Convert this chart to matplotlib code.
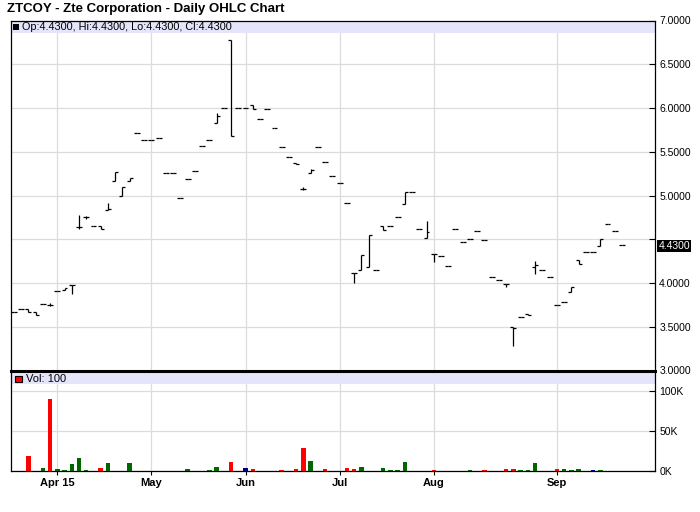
# ZTCOY daily OHLC chart with volume panel
import numpy as np
import matplotlib
matplotlib.use("Agg")
import matplotlib.pyplot as plt
from matplotlib.patches import Rectangle

plt.rcParams['font.family'] = ['Liberation Sans', 'DejaVu Sans']

# Daily bars (one per trading session shown on the chart)
opens = [3.67, 3.70, 3.70, 3.67, 3.76, 3.75, 3.91, 3.92, 3.98, 4.64,
         4.75, 4.65, 4.65, 4.83, 5.17, 5.00, 5.17, 5.71, 5.63, 5.64,
         5.66, 5.26, 5.26, 4.97, 5.19, 5.28, 5.57, 5.63, 5.83, 6.00,
         6.78, 6.00, 6.00, 6.03, 5.87, 5.99, 5.77, 5.55, 5.44, 5.37,
         5.07, 5.26, 5.55, 5.38, 5.22, 5.14, 4.92, 4.11, 4.15, 4.18,
         4.15, 4.65, 4.65, 4.75, 4.90, 5.04, 4.62, 4.51, 4.33, 4.31,
         4.20, 4.62, 4.47, 4.50, 4.59, 4.49, 4.07, 4.04, 3.99, 3.50,
         3.61, 3.65, 4.18, 4.15, 4.07, 3.75, 3.78, 3.90, 4.26, 4.35,
         4.35, 4.42, 4.67, 4.60, 4.43]
highs = [3.67, 3.70, 3.70, 3.67, 3.76, 3.77, 3.91, 3.94, 3.98, 4.78,
         4.77, 4.65, 4.65, 4.92, 5.27, 5.10, 5.20, 5.71, 5.63, 5.64,
         5.66, 5.26, 5.26, 4.97, 5.19, 5.28, 5.57, 5.63, 5.94, 6.00,
         6.78, 6.00, 6.00, 6.03, 5.87, 5.99, 5.77, 5.55, 5.44, 5.37,
         5.10, 5.30, 5.55, 5.38, 5.22, 5.14, 4.92, 4.11, 4.32, 4.55,
         4.15, 4.65, 4.65, 4.75, 5.04, 5.04, 4.62, 4.71, 4.33, 4.31,
         4.20, 4.62, 4.47, 4.50, 4.59, 4.49, 4.07, 4.04, 3.99, 3.50,
         3.61, 3.65, 4.25, 4.15, 4.07, 3.75, 3.78, 3.95, 4.26, 4.35,
         4.35, 4.50, 4.67, 4.60, 4.43]
lows = [3.67, 3.70, 3.67, 3.63, 3.76, 3.74, 3.91, 3.92, 3.87, 4.62,
        4.73, 4.65, 4.62, 4.83, 5.17, 5.00, 5.17, 5.71, 5.63, 5.64,
        5.66, 5.26, 5.26, 4.97, 5.19, 5.28, 5.57, 5.63, 5.83, 6.00,
        5.68, 6.00, 6.00, 5.99, 5.87, 5.99, 5.77, 5.55, 5.44, 5.36,
        5.06, 5.26, 5.55, 5.38, 5.22, 5.14, 4.91, 4.00, 4.15, 4.18,
        4.15, 4.61, 4.65, 4.75, 4.90, 5.04, 4.62, 4.51, 4.24, 4.31,
        4.20, 4.62, 4.47, 4.50, 4.59, 4.49, 4.07, 4.04, 3.95, 3.28,
        3.61, 3.63, 4.10, 4.15, 4.07, 3.75, 3.78, 3.90, 4.22, 4.35,
        4.35, 4.42, 4.67, 4.60, 4.43]
closes = [3.67, 3.70, 3.67, 3.63, 3.76, 3.75, 3.91, 3.94, 3.98, 4.64,
          4.75, 4.65, 4.62, 4.85, 5.27, 5.10, 5.20, 5.71, 5.63, 5.64,
          5.66, 5.26, 5.26, 4.97, 5.19, 5.28, 5.57, 5.63, 5.91, 6.00,
          5.68, 6.00, 6.00, 5.99, 5.87, 5.99, 5.77, 5.55, 5.44, 5.36,
          5.07, 5.29, 5.55, 5.38, 5.22, 5.14, 4.91, 4.11, 4.32, 4.55,
          4.15, 4.61, 4.65, 4.75, 5.04, 5.04, 4.62, 4.58, 4.33, 4.31,
          4.20, 4.62, 4.47, 4.50, 4.59, 4.49, 4.07, 4.04, 3.99, 3.49,
          3.61, 3.63, 4.21, 4.15, 4.07, 3.75, 3.78, 3.95, 4.22, 4.35,
          4.35, 4.50, 4.67, 4.60, 4.43]
# volume in thousands of shares
volume_k = [0, 0, 19, 0, 4, 90, 2.8, 1.5, 9, 16.5,
            1.5, 0, 4, 10.2, 0, 0, 10.2, 0, 0, 0,
            0, 0, 0, 0, 2.8, 0, 0, 1.5, 5.2, 0,
            11.5, 0, 4, 2.8, 0, 0, 0, 1.5, 0, 2.8,
            29, 12.7, 0, 2.8, 0, 0, 4, 2.8, 5.2, 0,
            0, 4, 1.5, 1.5, 11.5, 0, 0, 0, 1.5, 0,
            0, 0, 0, 1.5, 0, 1.5, 0, 0, 2.8, 2.8,
            1.5, 1.5, 10.2, 0, 0, 2.8, 2.8, 1.5, 2.8, 0,
            1.5, 1.5, 0, 0, 0]

month_pos = [6, 19, 32, 45, 58, 75]
month_labels = ['Apr 15', 'May', 'Jun', 'Jul', 'Aug', 'Sep']
price_ticks = [3.0, 3.5, 4.0, 4.5, 5.0, 5.5, 6.0, 6.5, 7.0]
vol_ticks = [0, 50, 100]
last_price = 4.43
last_volume = 100

x = np.arange(len(closes))
c = np.array(closes)
prev = np.concatenate([[c[0]], c[:-1]])
chg = np.round(c - prev, 3)
vol_colors = np.where(chg > 0, '#006600', np.where(chg < 0, '#ff0000', '#000080'))

W, H = 700, 512
fig = plt.figure(figsize=(W / 100, H / 100), dpi=100)

def fx(px):
    return px / W

def fy(py):
    return 1 - py / H

grid_col = '#dcdcdc'
band_col = '#e4e4fa'

# price panel
ax = fig.add_axes([fx(10.5), fy(370.5), fx(655 - 10.5), (370.5 - 20.5) / H])
axv = fig.add_axes([fx(10.5), fy(471.3), fx(655 - 10.5), (471.3 - 371) / H], sharex=ax)

tw = 0.41
ax.vlines(x, lows, highs, color='black', linewidth=0.9, zorder=3)
ax.hlines(opens, x - tw, x, color='black', linewidth=0.9, zorder=3)
ax.hlines(closes, x, x + tw, color='black', linewidth=0.9, zorder=3)

ax.set_xlim(-0.46, 88.56)
ax.set_ylim(3.0, 7.0)
ax.set_axisbelow(True)
ax.set_xticks(month_pos)
ax.set_yticks(price_ticks)
ax.set_yticklabels(['' if abs(t - 4.5) < 1e-9 else f'{t:.4f}' for t in price_ticks])
ax.yaxis.tick_right()
ax.tick_params(axis='y', direction='in', length=4, width=0.8, pad=3, labelsize=7.5)
ax.tick_params(axis='x', length=0, labelbottom=False)
ax.grid(True, color=grid_col, linewidth=0.9)
for s in ['left', 'right', 'top']:
    ax.spines[s].set_linewidth(0.9)
ax.spines['bottom'].set_visible(False)

# header band of price panel
ax.add_patch(Rectangle((0, 1 - 12.5 / 350), 1, 12.5 / 350, transform=ax.transAxes,
                       facecolor=band_col, edgecolor='none', zorder=1))

# volume panel
axv.bar(x, volume_k, width=0.62, color=vol_colors, zorder=3)
axv.set_ylim(0, 125.4)
axv.set_axisbelow(True)
axv.set_yticks(vol_ticks)
axv.set_yticklabels([f'{v}K' for v in vol_ticks])
axv.yaxis.tick_right()
axv.tick_params(axis='y', direction='in', length=4, width=0.8, pad=3, labelsize=7.5)
axv.set_xticks(month_pos)
axv.set_xticklabels(month_labels, fontweight='bold', fontsize=8)
axv.tick_params(axis='x', direction='out', length=3, width=0.8, pad=2)
axv.grid(True, color=grid_col, linewidth=0.9)
for s in ['left', 'right', 'bottom']:
    axv.spines[s].set_linewidth(0.9)
axv.spines['top'].set_linewidth(2.2)
axv.add_patch(Rectangle((0, 1 - 12.5 / 100.3), 1, 12.5 / 100.3, transform=axv.transAxes,
                        facecolor=band_col, edgecolor='none', zorder=1))

# title and legends
fig.text(fx(7), fy(9), 'ZTCOY - Zte Corporation - Daily OHLC Chart',
         fontsize=9.5, fontweight='bold', va='center', ha='left')
fig.add_artist(Rectangle((fx(13), fy(29.5)), fx(6), 6 / H, transform=fig.transFigure,
                         facecolor='black', edgecolor='none'))
fig.text(fx(22), fy(26.5),
         f'Op:{last_price:.4f}, Hi:{last_price:.4f}, Lo:{last_price:.4f}, Cl:{last_price:.4f}',
         fontsize=7.8, va='center', ha='left')
fig.add_artist(Rectangle((fx(15.5), fy(382)), fx(6), 6 / H, transform=fig.transFigure,
                         facecolor='#ff0000', edgecolor='black', linewidth=0.8))
fig.text(fx(26), fy(378.5), f'Vol: {last_volume}', fontsize=8, va='center', ha='left')

# last price marker on the right axis
fig.text(fx(658.5), fy(246), f'{last_price:.4f}', fontsize=7.5, color='white',
         va='center', ha='left',
         bbox=dict(boxstyle='square,pad=0.12', facecolor='black', edgecolor='none'))

fig.savefig('out.png', dpi=100)
